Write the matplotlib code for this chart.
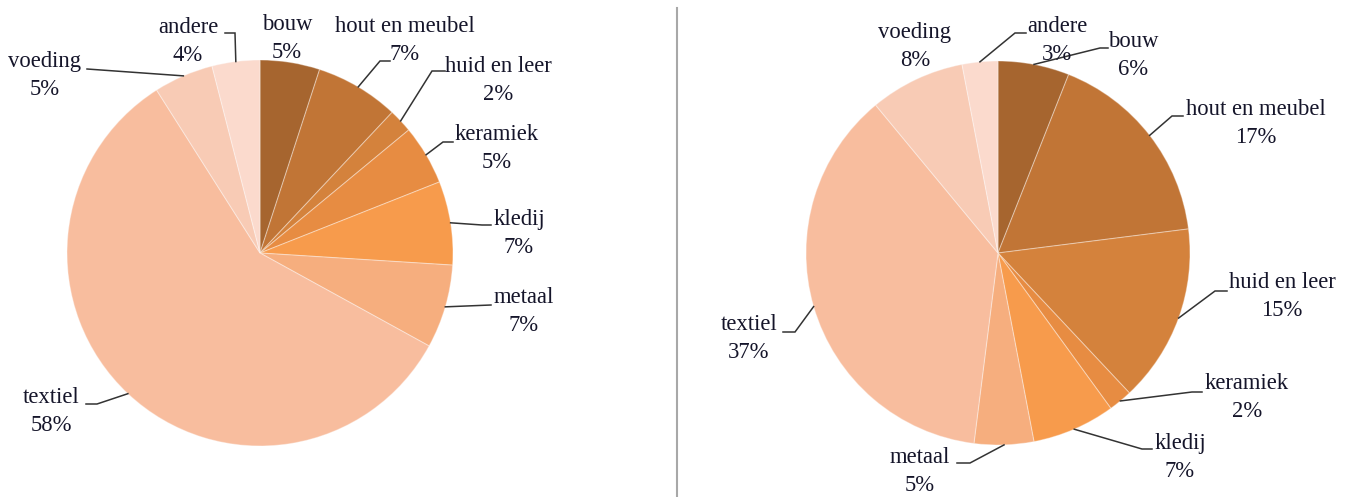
import matplotlib.pyplot as plt
import numpy as np

W, H = 1351, 497

categories = ['bouw', 'hout en meubel', 'huid en leer', 'keramiek', 'kledij',
              'metaal', 'textiel', 'voeding', 'andere']
share_left = [5, 7, 2, 5, 7, 7, 58, 5, 4]
share_right = [6, 17, 15, 2, 7, 5, 37, 8, 3]

colors = ['#a6652f', '#c17536', '#d4823c', '#e78c42', '#f79b4c',
          '#f6ae7e', '#f8bd9e', '#f8cbb5', '#fbdacd']

# label layout in pixels (from top-left): name (centre x, baseline y),
# leader line points after the wedge anchor (None = no leader)
left_layout = [
    ((287, 30), None),
    ((405, 32), [(380, 61), (390, 61)]),
    ((498, 72), [(432, 71), (445, 71)]),
    ((497, 140), [(443, 142), (453, 142)]),
    ((519, 225), [(482, 225), (491, 225)]),
    ((524, 303), [(491, 305)]),
    ((51, 403), [(97, 404), (86, 404)]),
    ((45, 67), [(87, 69)]),
    ((188, 33), [(235, 33), (225, 33)]),
]
right_layout = [
    ((1133, 47), [(1100, 48), (1108, 48)]),
    ((1256, 115), [(1172, 116), (1183, 116)]),
    ((1282, 288), [(1215, 291), (1227, 291)]),
    ((1247, 389), [(1192, 392), (1202, 392)]),
    ((1180, 449), [(1142, 449), (1152, 449)]),
    ((920, 463), [(970, 463), (957, 463)]),
    ((749, 330), [(795, 332), (783, 332)]),
    ((915, 38), None),
    ((1057, 32), [(1015, 33), (1026, 33)]),
]

fig = plt.figure(figsize=(W / 100, H / 100), dpi=100)
ax = fig.add_axes([0, 0, 1, 1])

txt_color = '#15152a'
font = dict(family='Liberation Serif', size=16.3, color=txt_color)


def draw_pie(values, center, radius, layout):
    cx, cy = center[0], H - center[1]
    wedges, _ = ax.pie(values, colors=colors, center=(cx, cy), radius=radius,
                       startangle=90, counterclock=False, frame=True,
                       wedgeprops=dict(edgecolor=(1, 1, 1, 0.35), linewidth=0.8))
    for w, name, val, (pos, leader) in zip(wedges, categories, values, layout):
        mid = np.deg2rad((w.theta1 + w.theta2) / 2)
        ax_ = cx + radius * np.cos(mid)
        ay_ = cy + radius * np.sin(mid)
        x, yb = pos
        ax.text(x, H - yb, name, ha='center', va='baseline', **font)
        ax.text(x, H - yb - 28, f'{val}%', ha='center', va='baseline', **font)
        if leader:
            xs = [ax_] + [p[0] for p in leader]
            ys = [ay_] + [H - p[1] for p in leader]
            ax.plot(xs, ys, color='#333333', lw=1.1, solid_joinstyle='miter')


draw_pie(share_left, (260, 253), 193, left_layout)
draw_pie(share_right, (998, 253), 192, right_layout)

# separator between the two charts
ax.plot([677, 677], [0, H - 8], color='#a8a8a8', lw=1.5)

ax.set_xlim(0, W)
ax.set_ylim(0, H)
ax.set_aspect('equal')
ax.axis('off')

fig.savefig('out.png', dpi=100)
